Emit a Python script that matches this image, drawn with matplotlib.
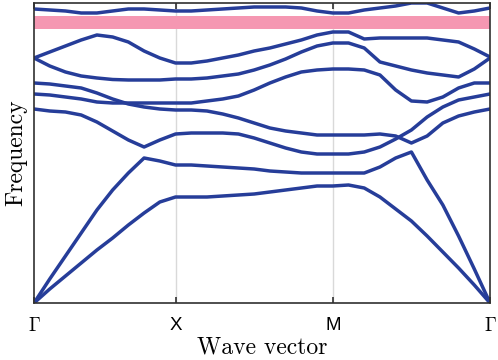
import numpy as np
import matplotlib.pyplot as plt

plt.rcParams['mathtext.fontset'] = 'cm'

# k-path: 30 sample points, high-symmetry points at 0, 9, 19, 29
k = np.arange(30)
tick_pos = [0, 9, 19, 29]
tick_labels = [r'$\Gamma$', 'X', 'M', r'$\Gamma$']

# band frequencies (arbitrary units, 0..300)
band1 = [0, 14, 27, 40, 53, 65, 78, 90, 101, 106,
         106, 106, 107, 108, 109, 111, 113, 115, 117, 117,
         118, 115, 106, 94, 82, 67, 51, 35, 18, 0]
band2 = [0, 24, 47, 70, 93, 113, 130, 145, 142, 138,
         138, 137, 136, 135, 134, 132, 131, 130, 130, 130,
         130, 130, 136, 145, 151, 123, 98, 67, 34, 0]
band3 = [194, 192, 191, 188, 181, 172, 163, 156, 163, 169,
         170, 170, 170, 169, 165, 160, 155, 151, 149, 149,
         149, 151, 156, 164, 173, 186, 196, 203, 206, 209]
band4 = [220, 219, 217, 215, 210, 204, 199, 196, 194, 193,
         193, 192, 189, 185, 180, 175, 172, 170, 168, 168,
         168, 168, 169, 167, 160, 167, 180, 187, 191, 194]
band5 = [209, 208, 206, 204, 201, 200, 200, 200, 200, 200,
         200, 202, 204, 207, 213, 220, 226, 231, 233, 234,
         234, 233, 228, 213, 202, 201, 206, 215, 220, 220]
band6 = [245, 237, 231, 227, 225, 223.5, 223, 223, 223, 224,
         224, 225, 227, 229, 233, 238, 244, 251, 257, 260,
         260, 255, 241, 237, 233, 230, 228, 226, 234, 245]
band7 = [245, 251, 257, 263, 268, 266, 261, 252, 245, 240,
         240, 242, 245, 248, 252, 255, 259, 263, 268, 271,
         271, 264, 265, 265, 265, 265, 263, 261, 254, 246]
band8 = [294, 293, 292, 290, 290, 292, 294, 294, 293, 292,
         292, 293, 294, 295, 296, 296, 296, 295, 292, 290,
         290, 293, 295, 297, 300, 300, 295, 290, 292, 295]
bands = [band1, band2, band3, band4, band5, band6, band7, band8]

# band gap
gap_low, gap_high = 274, 287

fig = plt.figure(figsize=(4.98, 3.6), dpi=100)
ax = fig.add_axes([0.0683, 0.1583, 0.9157, 0.8334])

ax.axhspan(gap_low, gap_high, color='#f597b2', lw=0)
for xp in tick_pos[1:3]:
    ax.axvline(xp, color='#d9d9d9', lw=1, zorder=0)
for b in bands:
    ax.plot(k, b, color='#263d99', lw=2.5)

ax.set_xlim(0, 29)
ax.set_ylim(0, 300)
ax.set_xticks(tick_pos)
ax.set_xticklabels(tick_labels, fontfamily='Liberation Sans', fontsize=13.5)
ax.set_yticks([])
ax.tick_params(axis='x', direction='in', top=True, length=4, width=1.2,
               color='#303030', pad=10)
for s in ax.spines.values():
    s.set_color('#303030')
    s.set_linewidth(1.2)

ax.set_xlabel('Wave vector', fontfamily='cmr10', fontsize=17, labelpad=1)
ax.set_ylabel('Frequency', fontfamily='cmr10', fontsize=17, labelpad=5)

plt.savefig('out.png', dpi=100)
